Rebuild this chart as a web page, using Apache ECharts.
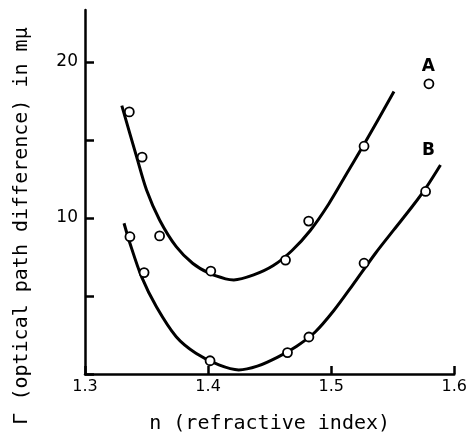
<!DOCTYPE html>
<html>
<head>
<meta charset="utf-8">
<script src="https://cdn.jsdelivr.net/npm/echarts@6/dist/echarts.min.js"></script>
<style>
  html, body { margin: 0; padding: 0; background: #fff; }
  #chart { width: 470px; height: 439px; }
</style>
</head>
<body>
<div id="chart"></div>
<script>
// measured points (n, optical path difference in m\u03bc)
var pointsA = [[1.336, 16.8], [1.3464, 13.9], [1.4022, 6.6], [1.4629, 7.3], [1.4817, 9.8], [1.5267, 14.6], [1.5794, 18.6]]
var pointsB = [[1.3365, 8.8], [1.3606, 8.85], [1.348, 6.5], [1.4016, 0.85], [1.4645, 1.37], [1.4819, 2.37], [1.5267, 7.1], [1.5767, 11.7]]

// drawn curves
var curveA = [[1.3299, 17.2], [1.3419, 13.93], [1.35, 11.79], [1.3606, 9.87], [1.3741, 8.16], [1.3874, 7.1], [1.4008, 6.46],
  [1.4142, 6.1], [1.4209, 6.03], [1.437, 6.35], [1.453, 6.95], [1.468, 7.9], [1.483, 9.2], [1.498, 10.9], [1.513, 12.9],
  [1.528, 14.9], [1.551, 18.1]]
var curveB = [[1.3317, 9.66], [1.3365, 8.38], [1.3459, 6.24], [1.358, 4.31], [1.3741, 2.39], [1.3901, 1.33], [1.4088, 0.58],
  [1.4249, 0.26], [1.44, 0.5], [1.457, 1.1], [1.472, 1.78], [1.487, 2.69], [1.502, 4.05], [1.517, 5.65], [1.536, 7.74],
  [1.551, 9.25], [1.566, 10.75], [1.5767, 11.9], [1.5888, 13.4]]

// curve names and where they sit (n, value at the letter's centre)
var curveLabels = [['A', 1.579, 19.7], ['B', 1.579, 14.3]]
var yLabels = [10, 20]

var font = 'DejaVu Sans'
var titleFont = 'DejaVu Sans Mono'
var chart = echarts.init(document.getElementById('chart'))

var lineSeries = function (data) {
  return { type: 'line', data: data, smooth: 0.3, showSymbol: false, silent: true,
    lineStyle: { color: '#000', width: 3 }, z: 2 }
}
var scatterSeries = function (data) {
  return { type: 'scatter', data: data, symbol: 'circle', symbolSize: 9, z: 3,
    itemStyle: { color: '#fff', borderColor: '#000', borderWidth: 1.8, opacity: 1 } }
}

chart.setOption({
  animation: false,
  grid: { left: 85, right: 12, top: 10, bottom: 65 },
  xAxis: {
    type: 'value', min: 1.3, max: 1.6, interval: 0.1,
    name: 'n (refractive index)', nameLocation: 'middle', nameGap: 40,
    nameTextStyle: { fontFamily: titleFont, fontSize: 20, color: '#000' },
    axisLine: { lineStyle: { color: '#000', width: 2.5 } },
    axisTick: { inside: true, length: 8, lineStyle: { color: '#000', width: 2.5 } },
    axisLabel: { fontFamily: font, fontSize: 16, color: '#000', margin: 5,
      formatter: function (v) { return v.toFixed(1) } },
    splitLine: { show: false }
  },
  yAxis: {
    type: 'value', min: 0, max: 23.33, interval: 5,
    axisLine: { lineStyle: { color: '#000', width: 2.5 } },
    axisTick: { inside: true, length: 9, lineStyle: { color: '#000', width: 2.5 } },
    axisLabel: { fontFamily: font, fontSize: 17, color: '#000', margin: 7, showMaxLabel: false,
      formatter: function (v) { return yLabels.indexOf(v) >= 0 ? String(v) : '' } },
    splitLine: { show: false }
  },
  series: [
    lineSeries(curveA),
    lineSeries(curveB),
    scatterSeries(pointsA),
    scatterSeries(pointsB)
  ]
})

// axis title on the left and the curve letters, as plain text elements
var letters = curveLabels.map(function (d) {
  var p = chart.convertToPixel({ gridIndex: 0 }, [d[1], d[2]])
  return {
    type: 'text', x: p[0], y: p[1],
    style: { text: d[0], fontFamily: font, fontSize: 17, fontWeight: 'bold', fill: '#000',
      align: 'center', verticalAlign: 'middle' }
  }
})
chart.setOption({
  graphic: [{
    type: 'text', x: 22, y: 226, rotation: Math.PI / 2,
    style: { text: '\u0393 (optical path difference) in m\u03bc', fontFamily: titleFont, fontSize: 20,
      fill: '#000', align: 'center', verticalAlign: 'middle' }
  }].concat(letters)
})
</script>
</body>
</html>
